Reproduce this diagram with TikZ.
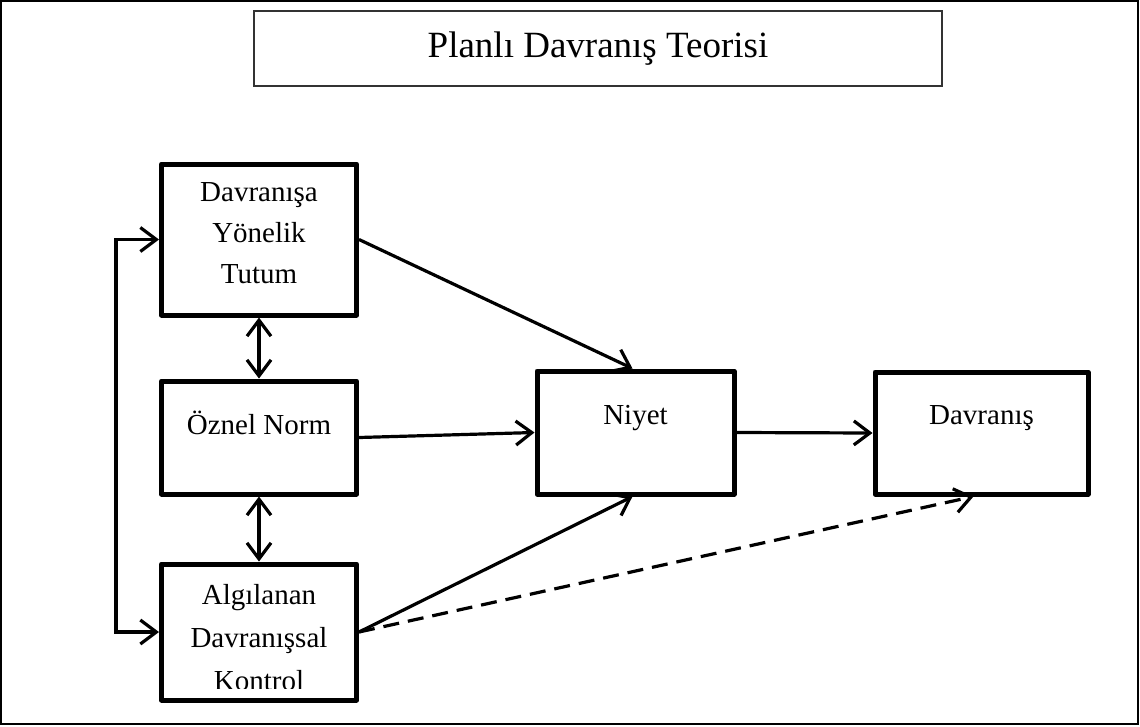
\documentclass[tikz,border=0pt]{standalone}
\usepackage{fontspec}
\setmainfont{Liberation Serif}
\usetikzlibrary{arrows.meta,calc}
\begin{document}
\begin{tikzpicture}[x=1pt,y=-1pt,
  box/.style={draw,line width=5pt,minimum width=195pt,inner sep=0pt,line join=round},
  lbl/.style={align=center,inner sep=0pt,font=\fontsize{29}{41}\selectfont},
  tip/.tip={Straight Barb[length=16pt,width=24pt,line width=3.2pt]},
  arr/.style={line width=3.2pt,-tip},
  darr/.style={line width=3.2pt,tip-tip},
  dsh/.style={arr,dash pattern=on 16pt off 9pt}]
\useasboundingbox (0,0) rectangle (1140,726);
\draw[line width=2pt] (1,1) rectangle (1138,724);
% title
\node[draw,line width=1.5pt,draw=black!80,minimum width=688pt,minimum height=75pt,inner sep=0pt,
  text=black,font=\fontsize{37}{44}\selectfont] (title) at (598,48.5) {Planlı Davranış Teorisi};
% boxes
\node[box,minimum height=151pt] (A) at (259,239.5) {};
\node[box,minimum height=113pt] (B) at (259,437.5) {};
\node[box,minimum height=136pt] (C) at (259,632) {};
\node[box,minimum width=197pt,minimum height=123pt] (N) at (635.5,432.5) {};
\node[box,minimum width=213pt,minimum height=122pt] (D) at (981.5,433) {};
% labels
\node[lbl] (tA) at (259,233) {Davranışa\\Yönelik\\Tutum};
\node[lbl] (tB) at (259,423) {Öznel Norm};
\begin{scope}
\clip (160,563) rectangle (358,688);
\node[lbl,font=\fontsize{29}{43}\selectfont] (tC) at (259,638) {Algılanan\\Davranışsal\\Kontrol};
\end{scope}
\node[lbl] (tN) at (635.5,418) {Niyet};
\node[lbl] (tD) at (981.5,418) {Davranış};
% connectors
\draw[arr] (A.east) -- ($(N.north)+(-3,0)$);
\draw[arr] (B.east) -- (N.west);
\draw[arr] (C.east) -- ($(N.south)+(-3,0)$);
\draw[arr] (N.east) -- (D.west);
\draw[dsh] (C.east) -- ($(D.south)+(-8,0)$);
\draw[darr] (A.south) -- (B.north);
\draw[darr] (B.south) -- (C.north);
\coordinate (L) at (116,0);
\draw[darr] (A.west) -- (L |- A.west) -- (L |- C.west) -- (C.west);
\end{tikzpicture}
\end{document}
